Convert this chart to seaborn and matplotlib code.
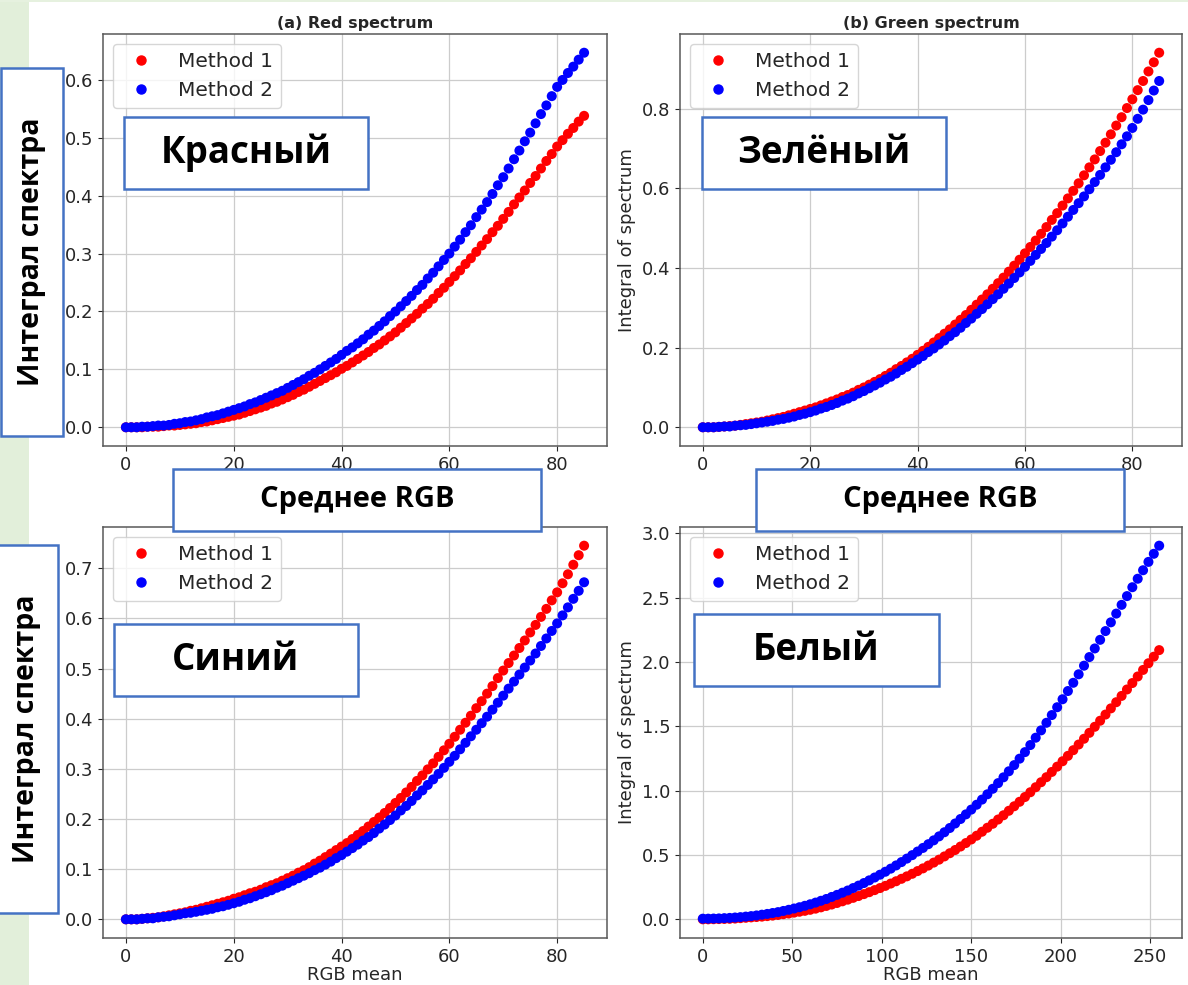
import pandas as pd
import matplotlib.pyplot as plt
import seaborn as sns
from matplotlib.patches import Rectangle
from matplotlib.lines import Line2D
from matplotlib.ticker import MultipleLocator

# -------------------------------------
# data
# -------------------------------------
# RGB mean: single channel panels (a, b, c) and white panel (d)
x_rgb = list(range(0, 86))
x_white = list(range(0, 256, 3))

# (a) red spectrum
red_m1 = [0.000, 0.000, 0.000, 0.000, 0.001, 0.001, 0.001, 0.002, 0.003, 0.003, 0.004,
          0.005, 0.006, 0.007, 0.009, 0.010, 0.012, 0.014, 0.016, 0.018, 0.020,
          0.022, 0.025, 0.028, 0.031, 0.034, 0.037, 0.041, 0.044, 0.048, 0.052,
          0.056, 0.061, 0.065, 0.070, 0.075, 0.080, 0.085, 0.090, 0.095, 0.101,
          0.106, 0.112, 0.118, 0.124, 0.130, 0.137, 0.143, 0.150, 0.157, 0.164,
          0.172, 0.180, 0.188, 0.196, 0.205, 0.213, 0.222, 0.232, 0.241, 0.251,
          0.261, 0.271, 0.282, 0.292, 0.303, 0.314, 0.325, 0.337, 0.348, 0.360,
          0.372, 0.385, 0.397, 0.409, 0.422, 0.434, 0.447, 0.460, 0.472, 0.485,
          0.496, 0.507, 0.517, 0.528, 0.538]
red_m2 = [0.000, 0.000, 0.000, 0.001, 0.001, 0.002, 0.003, 0.003, 0.004, 0.006, 0.007,
          0.009, 0.010, 0.012, 0.014, 0.017, 0.019, 0.021, 0.024, 0.027, 0.030,
          0.033, 0.036, 0.040, 0.043, 0.047, 0.051, 0.055, 0.059, 0.063, 0.068,
          0.073, 0.078, 0.083, 0.089, 0.094, 0.100, 0.106, 0.112, 0.118, 0.125,
          0.132, 0.138, 0.145, 0.152, 0.160, 0.167, 0.175, 0.183, 0.192, 0.200,
          0.209, 0.218, 0.227, 0.237, 0.246, 0.257, 0.267, 0.278, 0.289, 0.300,
          0.312, 0.324, 0.337, 0.349, 0.363, 0.376, 0.389, 0.403, 0.418, 0.432,
          0.447, 0.463, 0.478, 0.494, 0.509, 0.525, 0.541, 0.556, 0.572, 0.588,
          0.600, 0.612, 0.623, 0.635, 0.647]

# (b) green spectrum
green_m1 = [0.000, 0.000, 0.000, 0.001, 0.002, 0.003, 0.004, 0.006, 0.008, 0.010, 0.012,
            0.014, 0.017, 0.020, 0.023, 0.026, 0.030, 0.034, 0.038, 0.042, 0.046,
            0.050, 0.055, 0.060, 0.065, 0.070, 0.076, 0.081, 0.087, 0.094, 0.100,
            0.107, 0.114, 0.121, 0.129, 0.137, 0.146, 0.154, 0.163, 0.172, 0.182,
            0.192, 0.202, 0.213, 0.224, 0.235, 0.246, 0.258, 0.270, 0.282, 0.295,
            0.308, 0.321, 0.334, 0.348, 0.362, 0.376, 0.391, 0.406, 0.421, 0.437,
            0.453, 0.469, 0.486, 0.503, 0.521, 0.538, 0.557, 0.575, 0.594, 0.613,
            0.633, 0.653, 0.673, 0.694, 0.715, 0.736, 0.758, 0.779, 0.802, 0.824,
            0.847, 0.870, 0.894, 0.917, 0.941]
green_m2 = [0.000, 0.000, 0.000, 0.001, 0.002, 0.002, 0.004, 0.005, 0.006, 0.008, 0.010,
            0.012, 0.014, 0.016, 0.019, 0.021, 0.024, 0.027, 0.031, 0.034, 0.038,
            0.042, 0.047, 0.051, 0.056, 0.061, 0.067, 0.072, 0.078, 0.085, 0.091,
            0.098, 0.105, 0.112, 0.120, 0.127, 0.135, 0.144, 0.152, 0.161, 0.170,
            0.179, 0.189, 0.198, 0.208, 0.218, 0.229, 0.239, 0.250, 0.262, 0.273,
            0.285, 0.297, 0.309, 0.322, 0.334, 0.348, 0.361, 0.375, 0.389, 0.403,
            0.418, 0.433, 0.448, 0.463, 0.479, 0.495, 0.512, 0.529, 0.546, 0.563,
            0.580, 0.598, 0.616, 0.634, 0.653, 0.672, 0.691, 0.711, 0.731, 0.752,
            0.775, 0.798, 0.822, 0.846, 0.870]

# (c) blue spectrum
blue_m1 = [0.000, 0.000, 0.000, 0.001, 0.002, 0.003, 0.004, 0.006, 0.008, 0.010, 0.012,
           0.014, 0.017, 0.019, 0.022, 0.025, 0.028, 0.031, 0.034, 0.037, 0.041,
           0.044, 0.048, 0.052, 0.055, 0.059, 0.064, 0.068, 0.072, 0.077, 0.082,
           0.087, 0.093, 0.098, 0.104, 0.111, 0.117, 0.124, 0.131, 0.138, 0.145,
           0.152, 0.160, 0.168, 0.176, 0.185, 0.194, 0.203, 0.212, 0.222, 0.232,
           0.242, 0.253, 0.264, 0.276, 0.287, 0.299, 0.311, 0.324, 0.337, 0.350,
           0.364, 0.378, 0.392, 0.406, 0.421, 0.435, 0.450, 0.465, 0.481, 0.496,
           0.511, 0.526, 0.541, 0.556, 0.572, 0.587, 0.603, 0.619, 0.636, 0.652,
           0.670, 0.688, 0.707, 0.726, 0.745]
blue_m2 = [0.000, 0.000, 0.000, 0.001, 0.002, 0.002, 0.004, 0.005, 0.006, 0.008, 0.010,
           0.012, 0.013, 0.015, 0.017, 0.019, 0.021, 0.024, 0.026, 0.029, 0.032,
           0.035, 0.039, 0.042, 0.046, 0.050, 0.054, 0.058, 0.063, 0.067, 0.072,
           0.077, 0.082, 0.087, 0.092, 0.098, 0.103, 0.109, 0.115, 0.122, 0.128,
           0.135, 0.142, 0.149, 0.157, 0.164, 0.172, 0.181, 0.189, 0.198, 0.207,
           0.217, 0.226, 0.236, 0.247, 0.257, 0.268, 0.279, 0.290, 0.302, 0.314,
           0.326, 0.339, 0.352, 0.365, 0.378, 0.391, 0.404, 0.418, 0.432, 0.446,
           0.460, 0.474, 0.488, 0.502, 0.516, 0.530, 0.545, 0.560, 0.575, 0.590,
           0.606, 0.622, 0.639, 0.655, 0.672]

# (d) white
white_m1 = [0.000, 0.000, 0.001, 0.002, 0.003, 0.004, 0.006, 0.009, 0.012, 0.015, 0.018,
            0.021, 0.025, 0.029, 0.034, 0.040, 0.045, 0.052, 0.059, 0.066, 0.074,
            0.083, 0.093, 0.104, 0.115, 0.127, 0.140, 0.153, 0.167, 0.181, 0.196,
            0.211, 0.227, 0.243, 0.260, 0.278, 0.296, 0.315, 0.334, 0.354, 0.375,
            0.396, 0.418, 0.441, 0.464, 0.489, 0.514, 0.539, 0.566, 0.593, 0.621,
            0.650, 0.681, 0.712, 0.743, 0.776, 0.809, 0.844, 0.879, 0.914, 0.951,
            0.988, 1.027, 1.066, 1.105, 1.146, 1.187, 1.229, 1.271, 1.315, 1.359,
            1.404, 1.450, 1.497, 1.544, 1.592, 1.640, 1.688, 1.737, 1.787, 1.837,
            1.888, 1.939, 1.991, 2.042, 2.093]
white_m2 = [0.005, 0.005, 0.006, 0.007, 0.009, 0.011, 0.014, 0.017, 0.021, 0.025, 0.030,
            0.036, 0.042, 0.049, 0.056, 0.065, 0.074, 0.084, 0.094, 0.105, 0.117,
            0.130, 0.144, 0.158, 0.174, 0.190, 0.207, 0.224, 0.243, 0.262, 0.282,
            0.303, 0.325, 0.347, 0.370, 0.394, 0.419, 0.445, 0.472, 0.499, 0.527,
            0.555, 0.584, 0.614, 0.645, 0.677, 0.710, 0.745, 0.780, 0.816, 0.853,
            0.891, 0.931, 0.972, 1.015, 1.059, 1.104, 1.151, 1.199, 1.249, 1.300,
            1.355, 1.412, 1.469, 1.528, 1.588, 1.649, 1.711, 1.775, 1.839, 1.905,
            1.972, 2.039, 2.106, 2.173, 2.241, 2.309, 2.377, 2.445, 2.513, 2.582,
            2.648, 2.714, 2.779, 2.842, 2.905]

methods = ["Method 1", "Method 2"]
palette = {"Method 1": "red", "Method 2": "blue"}

# -------------------------------------
# style
# -------------------------------------
sns.set_style("whitegrid", {
    "axes.edgecolor": "0.35",
    "grid.color": "0.8",
    "xtick.bottom": True,
    "ytick.left": True,
})
plt.rcParams["axes.linewidth"] = 1.1
plt.rcParams["grid.linewidth"] = 0.9

W, H = 1188, 985


def px_rect(x0, y0, x1, y1):
    """pixel box (top-left origin) -> figure fraction [left, bottom, w, h]"""
    return [x0 / W, 1 - y1 / H, (x1 - x0) / W, (y1 - y0) / H]


def draw_panel(ax, x, m1, m2, xstep, ystep, title=None, ylabel="", xlabel=""):
    df = pd.DataFrame({
        "RGB mean": list(x) + list(x),
        "Integral": m1 + m2,
        "method": [methods[0]] * len(m1) + [methods[1]] * len(m2),
    })
    sns.scatterplot(data=df, x="RGB mean", y="Integral", hue="method",
                    palette=palette, s=52, linewidth=0, legend=False, ax=ax)
    ax.xaxis.set_major_locator(MultipleLocator(xstep))
    ax.yaxis.set_major_locator(MultipleLocator(ystep))
    ax.set_xlabel(xlabel, fontsize=13, labelpad=0.5)
    ax.set_ylabel(ylabel, fontsize=13)
    if title:
        ax.set_title(title, fontsize=11.5, fontweight="bold", pad=4)
    ax.tick_params(labelsize=13)
    handles = [Line2D([], [], ls="", marker="o", ms=6.5, color=palette[m]) for m in methods]
    ax.legend(handles, methods, loc="upper left", fontsize=14.5)


fig = plt.figure(figsize=(W / 100, H / 100), dpi=100)

ax_a = fig.add_axes(px_rect(103, 34, 607, 446))
ax_b = fig.add_axes(px_rect(680, 34, 1182, 446))
ax_c = fig.add_axes(px_rect(103, 527, 607, 938))
ax_d = fig.add_axes(px_rect(680, 527, 1182, 938))

draw_panel(ax_a, x_rgb, red_m1, red_m2, 20, 0.1, title="(a) Red spectrum")
draw_panel(ax_b, x_rgb, green_m1, green_m2, 20, 0.2, title="(b) Green spectrum",
           ylabel="Integral of spectrum")
draw_panel(ax_c, x_rgb, blue_m1, blue_m2, 20, 0.1, xlabel="RGB mean")
draw_panel(ax_d, x_white, white_m1, white_m2, 50, 0.5,
           ylabel="Integral of spectrum", xlabel="RGB mean")

# -------------------------------------
# slide overlay: green strip + labelled boxes
# -------------------------------------
fig.add_artist(Rectangle((0, 0), 29 / W, 1, transform=fig.transFigure,
                         facecolor="#e2efda", edgecolor="none", zorder=1))
fig.add_artist(Rectangle((0, 1 - 2 / H), 1, 2 / H, transform=fig.transFigure,
                         facecolor="#e6f1df", edgecolor="none", zorder=1))


def slide_box(x0, y0, x1, y1, text, size, rotation=0):
    fig.add_artist(Rectangle((x0 / W, 1 - y1 / H), (x1 - x0) / W, (y1 - y0) / H,
                             transform=fig.transFigure, facecolor="white",
                             edgecolor="#4472c4", linewidth=1.8, zorder=10))
    fig.text((x0 + x1) / 2 / W, 1 - (y0 + y1) / 2 / H, text, rotation=rotation,
             ha="center", va="center", fontsize=size, fontweight="bold",
             family="Open Sans", color="black", zorder=11)


slide_box(124, 117, 368, 189, "Красный", 26.5)
slide_box(702, 117, 946, 189, "Зелёный", 26.5)
slide_box(114, 624, 358, 696, "Синий", 26.5)
slide_box(694, 614, 939, 686, "Белый", 26.5)
slide_box(173, 469, 541, 531, "Среднее RGB", 21)
slide_box(756, 469, 1124, 531, "Среднее RGB", 21)
slide_box(1, 68, 63, 436, "Интеграл спектра", 20.5, rotation=90)
slide_box(-4, 545, 58, 913, "Интеграл спектра", 20.5, rotation=90)

fig.savefig("out.png", dpi=100)
